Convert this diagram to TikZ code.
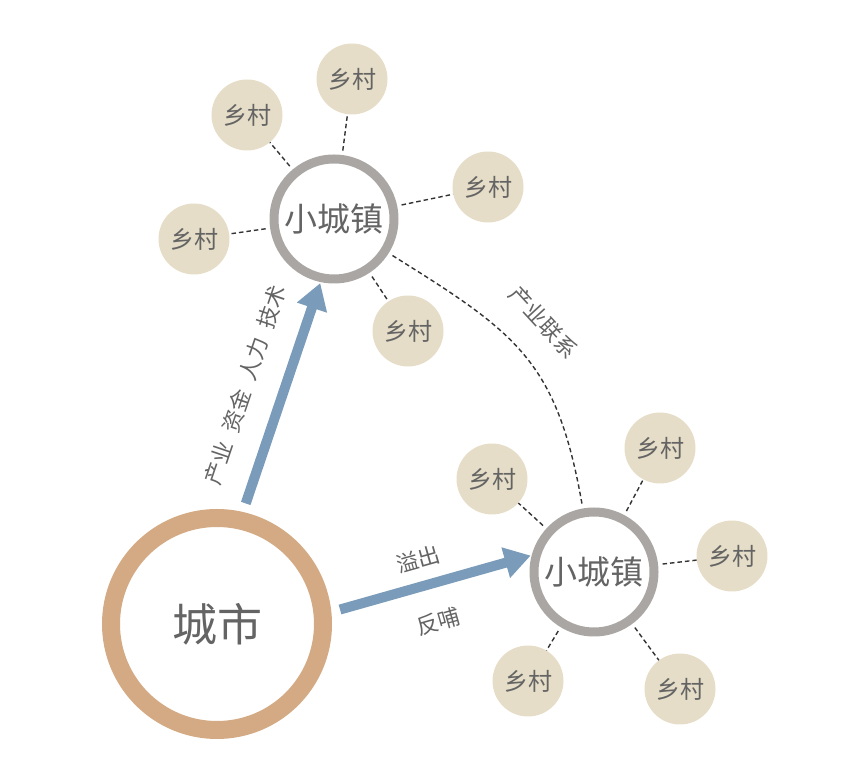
\documentclass[tikz,border=0pt]{standalone}
\usepackage{fontspec}
\newfontfamily\cjk{Noto Sans CJK SC}
\usetikzlibrary{arrows.meta}
\definecolor{villagefill}{RGB}{229,221,199}
\definecolor{towngray}{RGB}{170,166,163}
\definecolor{citytan}{RGB}{211,170,131}
\definecolor{flowblue}{RGB}{122,155,185}
\definecolor{labelgray}{RGB}{100,100,100}

\begin{document}
\begin{tikzpicture}[
  x=1pt, y=1pt,
  village/.style={
    circle,
    fill=villagefill,
    minimum size=71pt,
    inner sep=0pt,
    text=labelgray,
    font=\cjk\fontsize{24}{24}\selectfont
  },
  town/.style={
    circle,
    draw=towngray,
    line width=9pt,
    fill=white,
    minimum size=120pt,
    inner sep=0pt,
    text=labelgray,
    font=\cjk\fontsize{33}{33}\selectfont
  },
  city/.style={
    circle,
    draw=citytan,
    line width=18pt,
    fill=white,
    minimum size=212pt,
    inner sep=0pt,
    text=labelgray,
    font=\cjk\fontsize{45}{45}\selectfont
  },
  flow/.style={
    draw=flowblue,
    line width=10pt,
    -{Triangle[width=30pt,length=26pt]},
    shorten <=9pt,
    shorten >=1pt
  },
  ruraltie/.style={
    draw=black!80,
    line width=1.4pt,
    dash pattern=on 4.5pt off 3pt,
    shorten <=4.5pt
  },
  flowlabel/.style={
    text=labelgray,
    font=\cjk\fontsize{22}{22}\selectfont
  }]
  \useasboundingbox (0,0) rectangle (844,763);
  % centres
  \node [city] (city) at (217,139) {城市};
  \node [town] (townA) at (334,544) {小城镇};
  \node [town] (townB) at (594,191) {小城镇};
  % villages round the upper town
  \node [village] (a1) at (247,648) {乡村};
  \node [village] (a2) at (352,684) {乡村};
  \node [village] (a3) at (488,576) {乡村};
  \node [village] (a4) at (194,524) {乡村};
  \node [village] (a5) at (408,432) {乡村};
  % villages round the lower town
  \node [village] (b1) at (492,284) {乡村};
  \node [village] (b2) at (660,315) {乡村};
  \node [village] (b3) at (732,207) {乡村};
  \node [village] (b4) at (528,82) {乡村};
  \node [village] (b5) at (680,74) {乡村};
  % ties
  \foreach \v in {a1,a2,a3,a4,a5}
    \draw [ruraltie] (townA) -- (\v);
  \foreach \v in {b1,b2,b3,b4,b5}
    \draw [ruraltie] (townB) -- (\v);
  \draw [ruraltie, shorten >=4.5pt] (townA.-32) to[out=-32, in=100, looseness=1.2]
    node [pos=0.46, sloped, above=22pt, flowlabel] {产业联系} (townB.100);
  % flows
  \draw [flow] (city.77) -- (townA.258)
    node [midway, sloped, above=20pt, flowlabel] {产业\hspace{0.5em}资金\hspace{0.5em}人力\hspace{0.5em}技术};
  \draw [flow] (city.6) -- (townB.165)
    node [pos=0.47, sloped, above=8pt, flowlabel] {溢出}
    node [pos=0.48, sloped, below=20pt, flowlabel] {反哺};
\end{tikzpicture}
\end{document}
